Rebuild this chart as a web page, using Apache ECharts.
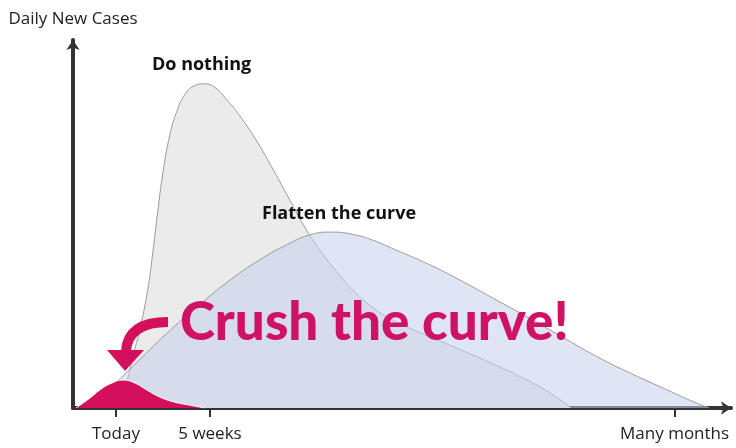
<!DOCTYPE html>
<html>
<head>
<meta charset="utf-8">
<script src="https://cdn.jsdelivr.net/npm/echarts@6/dist/echarts.min.js"></script>
<style>
  html, body { margin: 0; padding: 0; background: #fff; }
  #chart { width: 736px; height: 448px; }
</style>
</head>
<body>
<div id="chart"></div>
<script>
// x = days from today, y = relative daily new cases
const doNothing = [
  [1, 0], [4, 7], [6.3, 14], [8.9, 21.5], [11.8, 32], [13.5, 41], [15.5, 53],
  [17.5, 64], [20, 74], [22.6, 80.5], [25.5, 85], [29, 87.5], [33, 88.1],
  [37, 87], [41, 84], [46, 79.5], [52, 73], [58, 65.5], [64, 57.5],
  [70, 49.5], [76, 42.8], [82, 37.2], [88.6, 31.8], [95, 27.6], [102, 24.3],
  [110, 21.5], [120, 18.4], [130, 15.3], [140, 12.1], [150, 8.7], [160, 4.8],
  [169.5, 0]
];
const flatten = [
  [-12, 0], [-7, 2.5], [-2, 5.5], [3, 9], [10, 14], [20, 21], [31, 28],
  [42, 34.5], [54, 40.5], [64, 44.5], [72, 47], [80, 47.8], [88, 47.2],
  [96, 45.5], [104, 43], [116, 39.2], [128, 34.8], [140, 30], [152, 25.2],
  [165, 19.8], [179, 14], [192, 9.3], [205, 5], [214, 2], [221, 0]
];
const crush = [
  [-14.9, 0], [-9.7, 2.7], [-6, 4.9], [-1.5, 6.8], [2.6, 7.6], [7, 6.8],
  [11.5, 4.9], [16.3, 3], [21.8, 1.6], [27.4, 0.8], [33, 0]
];
const tickValues = [0, 35, 208];
const tickLabels = ["Today", "5 weeks", "Many months"];

const chart = echarts.init(document.getElementById("chart"));

const lineStyle = { color: "#9b9b9b", width: 1 };

chart.setOption({
  animation: false,
  grid: { left: 73, right: 5, top: 40, bottom: 40 },
  xAxis: {
    type: "value",
    min: -16,
    max: 229,
    splitLine: { show: false },
    axisLine: {
      onZero: false,
      symbol: ["none", "arrow"],
      symbolSize: [10, 10],
      lineStyle: { color: "#333", width: 4 }
    },
    axisTick: {
      show: true,
      customValues: tickValues,
      length: 9,
      lineStyle: { color: "#333", width: 2 }
    },
    axisLabel: {
      customValues: tickValues,
      margin: 18,
      color: "#222",
      fontSize: 17,
      fontFamily: "Open Sans",
      formatter: v => tickLabels[tickValues.indexOf(v)] || ""
    }
  },
  yAxis: {
    type: "value",
    min: 0,
    max: 100,
    name: "Daily New Cases",
    nameGap: 12,
    nameTextStyle: { color: "#222", fontSize: 17, fontFamily: "Open Sans" },
    splitLine: { show: false },
    axisTick: { show: false },
    axisLabel: { show: false },
    axisLine: {
      show: true,
      onZero: false,
      symbol: ["none", "arrow"],
      symbolSize: [10, 10],
      lineStyle: { color: "#333", width: 4 }
    }
  },
  series: [
    {
      name: "Do nothing",
      type: "line",
      data: doNothing,
      smooth: true,
      symbol: "none",
      lineStyle: lineStyle,
      areaStyle: { color: "#ebebeb", opacity: 1 },
      z: 1
    },
    {
      name: "Flatten the curve",
      type: "line",
      data: flatten,
      smooth: true,
      symbol: "none",
      lineStyle: lineStyle,
      areaStyle: { color: "rgb(196,208,236)", opacity: 0.55 },
      z: 2
    },
    {
      name: "Crush the curve",
      type: "line",
      data: crush,
      smooth: true,
      symbol: "none",
      lineStyle: { color: "#fff", width: 1 },
      areaStyle: { color: "#d4105c", opacity: 1 },
      z: 3
    }
  ],
  graphic: [
    {
      type: "text", x: 152, y: 65, z: 10,
      style: { text: "Do nothing", fill: "#111", font: "bold 18px 'Open Sans'", verticalAlign: "middle" }
    },
    {
      type: "text", x: 262, y: 214, z: 10,
      style: { text: "Flatten the curve", fill: "#111", font: "bold 18px 'Open Sans'", verticalAlign: "middle" }
    },
    {
      type: "text", x: 180, y: 323, z: 10,
      style: { text: "Crush the curve!", fill: "#cf1263", font: "900 53px Lato", verticalAlign: "middle" }
    },
    {
      type: "bezierCurve", z: 10,
      shape: { x1: 168, y1: 322, cpx1: 128, cpy1: 322, x2: 126, y2: 351 },
      style: { fill: null, stroke: "#d4105c", lineWidth: 10 }
    },
    {
      type: "polygon", z: 10,
      shape: { points: [[107, 350], [144, 350], [125, 371]] },
      style: { fill: "#d4105c" }
    }
  ]
});
</script>
</body>
</html>
